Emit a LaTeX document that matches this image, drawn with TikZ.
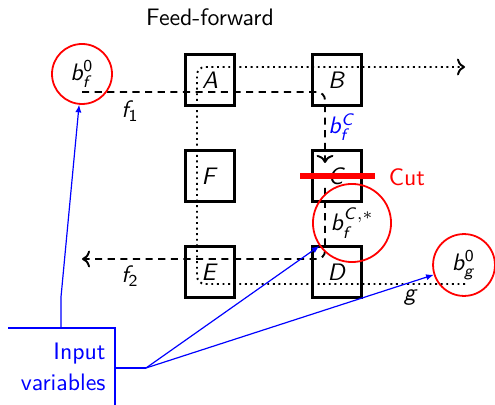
\documentclass[tikz,border=0pt]{standalone}
\usepackage{amsmath}
\DeclareMathAlphabet{\mathsfit}{OT1}{cmss}{m}{sl}
\usetikzlibrary{arrows.meta}
\begin{document}
\begin{tikzpicture}[x=0.42pt,y=-0.42pt,font=\sffamily,
  blk/.style={draw,line width=0.9pt,minimum width=20.6pt,minimum height=21.4pt,inner sep=0pt},
  rc/.style={draw=red,line width=0.75pt,circle,inner sep=0pt},
  ffline/.style={thick,dash pattern=on 3pt off 2.3pt,rounded corners=3.4pt},
  dtline/.style={thick,dash pattern=on 0.8pt off 1.55pt,rounded corners=3.4pt},
  blline/.style={blue,line width=0.5pt},
  blarrow/.style={blue,line width=0.5pt,-{Latex[length=3.2pt,width=2.6pt]}}]
\useasboundingbox (0,0) rectangle (495,405);
% title
\node (title) at (210,17) {Feed-forward};
% boxes
\node[blk] (A) at (210,80) {$\mathsfit{A}$};
\node[blk] (B) at (337,80) {$\mathsfit{B}$};
\node[blk] (F) at (210,176) {$\mathsfit{F}$};
\node[blk] (C) at (337,176) {$\mathsfit{C}$};
\node[blk] (E) at (210,272) {$\mathsfit{E}$};
\node[blk] (D) at (337,272) {$\mathsfit{D}$};
% coordinates of path ends
\coordinate (f1s) at (82,92);
\coordinate (f1c) at (325,92);
\coordinate (f1e) at (325,163);
\coordinate (f2s) at (325,188);
\coordinate (f2c) at (325,259);
\coordinate (f2e) at (82,259);
\coordinate (gs) at (465,284);
\coordinate (gc1) at (197,284);
\coordinate (gc2) at (197,67);
\coordinate (ge) at (465,67);
% dashed f paths
\draw[ffline,->] (f1s) -- (f1c) -- (f1e);
\draw[ffline,->] (f2s) -- (f2c) -- (f2e);
% dotted g path
\draw[dtline,->] (gs) -- (gc1) -- (gc2) -- (ge);
% labels
\node (lf1) at (130,111) {$\mathsfit{f}_{\mathsf{1}}$};
\node (lf2) at (130,276) {$\mathsfit{f}_{\mathsf{2}}$};
\node (lg) at (411,298) {$\mathsfit{g}$};
\node[text=blue] (lbfc) at (342,127) {$\mathsfit{b}_{\mathsfit{f}}^{\mathsfit{C}}$};
% cut
\coordinate (cuta) at (300,176);
\coordinate (cutb) at (375,176);
\draw[red,line width=2.7pt] (cuta) -- (cutb);
\node[text=red] (cut) at (407,177) {Cut};
% circles
\node[rc,minimum size=25.2pt] (bf0) at (82,74) {$\mathsfit{b}_{\mathsfit{f}}^{\mathsf{0}}$};
\node[rc,minimum size=26pt] (bg0) at (464,265) {$\mathsfit{b}_{\mathsfit{g}}^{\mathsf{0}}$};
\node[rc,minimum size=32.8pt] (bfc) at (352,223) {$\mathsfit{b}_{\mathsfit{f}}^{\mathsfit{C},*}$};
% input variables
\node[text=blue,align=right,anchor=east,inner sep=0pt] (inp) at (106,367) {Input\\[1pt]variables};
\coordinate (ia) at (8,328);
\coordinate (ib) at (115,328);
\coordinate (ic) at (115,405);
\draw[blline] (ia) -- (ib) -- (ic);
\coordinate (i1) at (61,328);
\coordinate (i1b) at (61,297);
\draw[blarrow] (i1) -- (i1b) -- (bf0);
\coordinate (i2) at (115,368);
\coordinate (i2b) at (146,368);
\draw[blline] (i2) -- (i2b);
\draw[blarrow] (i2b) -- (bfc);
\draw[blarrow] (i2b) -- (bg0);
\end{tikzpicture}
\end{document}
